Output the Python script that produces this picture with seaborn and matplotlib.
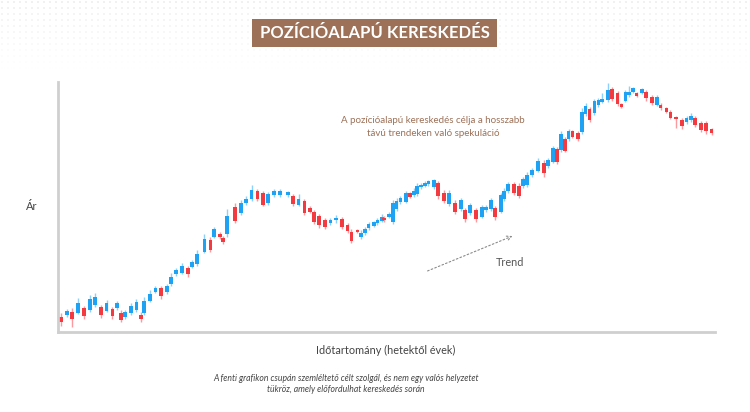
import numpy as np
import pandas as pd
import matplotlib
matplotlib.use("Agg")
import matplotlib.pyplot as plt
import seaborn as sns
from matplotlib.patches import Rectangle, FancyArrowPatch

# Position temporelle de chaque bougie (en semaines)
semaines = [0, 1.2, 2.3, 3.5, 4.7, 5.9, 7.0, 8.2, 9.3, 10.5, 11.4, 12.3, 13.1, 14.3, 15.4, 16.3,
            17.0, 18.2, 19.3, 20.4, 21.6, 22.4, 23.5, 24.7, 25.9, 26.7, 27.8, 29.3, 30.5, 31.3, 32.4, 33.1,
            33.9, 35.5, 36.7, 37.8, 38.9, 40.1, 41.2, 42.3, 43.5, 44.7, 46.3, 47.4, 48.5, 49.7, 50.8, 51.6,
            52.7, 53.9, 55.0, 56.2, 57.4, 58.5, 59.3, 60.5, 61.2, 62.0, 62.8, 63.9, 64.6, 65.5, 65.9,
            67.0, 67.8, 68.5, 69.3, 70.4, 71.3, 72.0, 72.7, 73.5, 74.3, 75.0, 76.2, 77.0, 78.2, 79.2, 80.4,
            81.6, 82.5, 83.5, 84.7, 85.9, 86.7, 87.8, 88.6, 89.8, 90.4, 91.2, 92.5, 93.5, 94.3, 95.1,
            96.1, 97.4, 98.6, 99.4, 100.5, 101.3, 102.0, 102.9, 103.6, 104.4, 105.6, 106.3, 107.1, 107.9,
            108.9, 109.7, 110.5, 111.6, 112.5, 113.6, 114.4, 115.2, 115.9, 116.7, 117.5, 118.6, 119.4,
            120.6, 121.6, 122.4, 123.6, 124.4, 125.5, 126.7, 127.7, 128.6, 129.4, 130.6, 131.6, 132.8]
# Données des bougies (ouverture, clôture, haut, bas)
opens = [18, 20, 23, 22, 27, 25, 30, 28, 24, 26, 27, 22, 18, 22, 25, 20, 22, 34, 43, 47,
         43, 51, 61, 62, 67, 68, 71, 83, 95, 98, 101, 97, 101, 128, 122, 132, 136, 144, 142, 132,
         140, 140, 140, 139, 130, 134, 127, 123, 119, 115, 112, 115, 116, 110, 103, 105, 98, 102, 107, 109,
         112, 114, 117, 118, 113, 126, 133, 133, 142, 140, 141, 148, 149, 151, 148, 152, 142, 131, 132, 126,
         125, 122, 125, 118, 125, 126, 127, 123, 136, 144, 151, 149, 149, 150, 160, 164, 172, 169, 173, 186,
         185, 196, 196, 204, 202, 203, 221, 226, 222, 230, 233, 235, 246, 242, 231, 234, 240, 243, 242, 242,
         243, 238, 230, 230, 227, 223, 218, 215, 213, 215, 217, 212, 212, 206]
closes = [13, 24, 16, 32, 19, 36, 38, 20, 32, 19, 32, 15, 23, 29, 33, 16, 34, 41, 47, 39,
          49, 58, 65, 69, 61, 73, 81, 96, 85, 106, 98, 93, 119, 114, 132, 136, 145, 136, 130, 141,
          144, 144, 143, 131, 136, 122, 123, 113, 110, 108, 115, 117, 108, 104, 94, 103, 102, 106, 111, 113,
          115, 118, 115, 121, 132, 134, 137, 142, 138, 144, 149, 150, 152, 154, 155, 139, 134, 142, 123, 135,
          116, 130, 116, 128, 128, 135, 118, 140, 144, 151, 142, 139, 156, 160, 165, 174, 162, 175, 187, 173,
          201, 184, 204, 198, 196, 223, 229, 215, 234, 235, 236, 245, 236, 231, 228, 243, 243, 247, 239, 246,
          237, 232, 238, 227, 223, 217, 216, 209, 217, 219, 210, 205, 204, 202]
highs = [22, 26, 27, 37, 29, 40, 42, 30, 35, 28, 34, 25, 25, 32, 36, 23, 38, 45, 49, 49,
         51, 62, 67, 72, 69, 75, 85, 101, 98, 108, 103, 99, 126, 132, 135, 139, 150, 146, 144, 143,
         146, 146, 144, 141, 141, 136, 129, 125, 121, 117, 117, 120, 118, 112, 106, 106, 105, 108, 113, 114,
         117, 121, 119, 123, 135, 137, 139, 144, 143, 147, 152, 152, 154, 155, 156, 154, 145, 145, 135, 137,
         127, 132, 127, 130, 130, 137, 129, 142, 147, 153, 153, 152, 158, 163, 167, 177, 175, 177, 189, 188,
         204, 198, 206, 205, 204, 227, 232, 228, 236, 237, 242, 252, 248, 244, 232, 245, 249, 248, 243, 247,
         245, 240, 240, 232, 228, 225, 219, 217, 219, 222, 219, 214, 214, 207]
lows = [9, 18, 8, 21, 16, 23, 28, 17, 23, 16, 25, 13, 16, 20, 23, 13, 20, 33, 42, 36,
        41, 49, 59, 61, 58, 67, 69, 82, 83, 97, 96, 91, 98, 112, 120, 130, 134, 134, 129, 130,
        138, 138, 138, 129, 129, 120, 122, 111, 107, 106, 110, 112, 106, 102, 92, 102, 96, 100, 105, 108,
        110, 113, 113, 117, 111, 124, 131, 132, 137, 138, 139, 146, 148, 149, 146, 136, 132, 129, 121, 124,
        113, 120, 113, 117, 123, 124, 115, 122, 134, 142, 140, 137, 147, 148, 158, 163, 158, 167, 172, 171,
        183, 183, 194, 197, 194, 201, 219, 213, 220, 228, 232, 233, 234, 229, 227, 233, 238, 242, 238, 241,
        234, 230, 229, 225, 222, 216, 207, 206, 211, 213, 208, 203, 201, 200]

df = pd.DataFrame({"t": semaines, "open": opens, "close": closes, "high": highs, "low": lows})
df["hausse"] = df["close"] >= df["open"]

bleu = "#1ea2f4"
rouge = "#f23a40"
brun = "#9c7158"

sns.set_theme(style="white")
plt.rcParams["font.family"] = ["Lato", "DejaVu Sans"]

fig = plt.figure(figsize=(7.5, 4.12), dpi=100)
fig.patch.set_facecolor("white")

# Fond pointillé léger en haut
fond = fig.add_axes([0, 0, 1, 1], zorder=-5)
gx, gy = np.meshgrid(np.arange(2, 750, 6), np.arange(2, 70, 6))
alpha_fond = np.clip(1 - gy / 70, 0, 1).ravel()
fond.scatter(gx.ravel(), gy.ravel(), s=0.8, c=[(0.75, 0.75, 0.75, a * 0.7) for a in alpha_fond],
             linewidths=0)
fond.set_xlim(0, 750)
fond.set_ylim(412, 0)
fond.axis("off")

ax = fig.add_axes([58 / 750, 1 - 332 / 412, (715 - 58) / 750, (332 - 82) / 412])
ax.patch.set_alpha(0)

couleurs = np.where(df["hausse"], bleu, rouge)

# Mèches
ax.vlines(df["t"], df["low"], df["high"], colors=couleurs, linewidth=1.0, alpha=0.5, zorder=1)

# Corps des bougies
hauteur = (df["close"] - df["open"]).to_numpy().astype(float)
hauteur = np.where(np.abs(hauteur) < 1.5, np.sign(hauteur + 0.01) * 1.5, hauteur)
ax.bar(df["t"], hauteur, bottom=df["open"], width=0.75, color=couleurs, linewidth=0, zorder=2)

ax.set_xlim(-0.6, 133.5)
ax.set_ylim(3, 253)
ax.set_xticks([])
ax.set_yticks([])
sns.despine(ax=ax)
for s in ["left", "bottom"]:
    ax.spines[s].set_color("#cfcfcf")
    ax.spines[s].set_linewidth(2)

# Textes
fig.text(26 / 750, 1 - 207 / 412, "Ár", fontsize=8, color="#444444", ha="left", va="center")
fig.text(386 / 750, 1 - 350 / 412, "Időtartomány (hetektől évek)", fontsize=7.8, color="#444444",
         ha="center", va="center")
fig.text(346 / 750, 1 - 384 / 412,
         "A fenti grafikon csupán szemléltető célt szolgál, és nem egy valós helyzetet\ntükröz, amely előfordulhat kereskedés során",
         fontsize=6.2, style="italic", color="#444444", ha="center", va="center", linespacing=1.35)

fig.text(433 / 750, 1 - 127 / 412,
         "A pozícióalapú kereskedés célja a hosszabb\ntávú trendeken való spekuláció",
         fontsize=7, color=brun, ha="center", va="center", linespacing=1.6)

# Flèche de tendance
fl = FancyArrowPatch((425 / 750, 1 - 272 / 412), (515 / 750, 1 - 235 / 412),
                     transform=fig.transFigure, arrowstyle="->", mutation_scale=8,
                     linestyle=(0, (1.5, 2)), color="#8a8a8a", linewidth=0.8)
fig.patches.append(fl)
fig.text(510 / 750, 1 - 262 / 412, "Trend", fontsize=7.8, color="#555555", ha="center", va="center")

# Bandeau du titre
fig.patches.append(Rectangle((252 / 750, 1 - 47 / 412), 245 / 750, 28 / 412,
                             transform=fig.transFigure, facecolor=brun, edgecolor="none"))
fig.text(374.5 / 750, 1 - 33.5 / 412, "POZÍCIÓALAPÚ KERESKEDÉS", fontsize=12, fontweight="bold",
         color="white", ha="center", va="center")

fig.savefig("out.png", dpi=100, facecolor="white")
